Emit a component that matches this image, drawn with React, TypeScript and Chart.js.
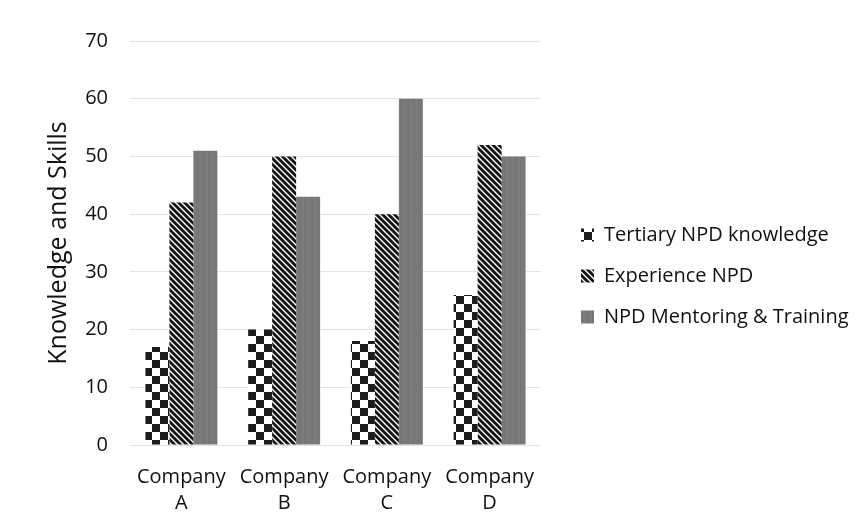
import React, { useEffect, useRef } from "react";
import { Chart, registerables } from "chart.js";

Chart.register(...registerables);

// Categories (two-line tick labels) and series values
const companies: string[][] = [
  ["Company", "A"],
  ["Company", "B"],
  ["Company", "C"],
  ["Company", "D"],
];
const tertiaryKnowledge = [17, 20, 18, 26];
const experienceNpd = [42, 50, 40, 52];
const mentoringTraining = [51, 43, 60, 50];
const seriesNames = [
  "Tertiary NPD knowledge",
  "Experience NPD",
  "NPD Mentoring & Training",
];
const yMin = 0;
const yMax = 70;
const yStep = 10;
const yTitle = "Knowledge and Skills";

const FONT = "'Open Sans', 'DejaVu Sans', sans-serif";
const TEXT = "#111111";

function makeTile(w: number, h: number, paint: (c: CanvasRenderingContext2D) => void) {
  const t = document.createElement("canvas");
  t.width = w;
  t.height = h;
  const c = t.getContext("2d")!;
  paint(c);
  return t;
}

function checkerPattern(ctx: CanvasRenderingContext2D) {
  const tile = makeTile(16, 16, (c) => {
    c.fillStyle = "#ffffff";
    c.fillRect(0, 0, 16, 16);
    c.fillStyle = "#1c1c1c";
    c.fillRect(0, 0, 8, 8);
    c.fillRect(8, 8, 8, 8);
  });
  return ctx.createPattern(tile, "repeat")!;
}

function diagonalPattern(ctx: CanvasRenderingContext2D) {
  const s = 6;
  const tile = makeTile(s, s, (c) => {
    c.fillStyle = "#ffffff";
    c.fillRect(0, 0, s, s);
    c.strokeStyle = "#141414";
    c.lineWidth = 2.8;
    for (const k of [-s, 0, s]) {
      c.beginPath();
      c.moveTo(k - 2, -2);
      c.lineTo(k + s + 2, s + 2);
      c.stroke();
    }
  });
  return ctx.createPattern(tile, "repeat")!;
}

function greyPattern(ctx: CanvasRenderingContext2D) {
  const cols = ["#747474", "#7c7c7c", "#787878", "#808080", "#737373", "#7a7a7a"];
  const tile = makeTile(cols.length, 1, (c) => {
    cols.forEach((col, i) => {
      c.fillStyle = col;
      c.fillRect(i, 0, 1, 1);
    });
  });
  return ctx.createPattern(tile, "repeat")!;
}

// Places the legend block to the right of the plot
const legendPlacer = {
  id: "legendPlacer",
  afterLayout(chart: any) {
    const lg = chart.legend;
    if (!lg) return;
    const w = lg.width;
    lg.left = 560;
    lg.right = 560 + w;
    lg.top = 25;
    lg.bottom = 527;
    lg.height = 502;
  },
};

export default function App() {
  const ref = useRef<HTMLCanvasElement | null>(null);

  useEffect(() => {
    const canvas = ref.current!;
    const ctx = canvas.getContext("2d")!;
    const chart = new Chart(canvas, {
      type: "bar",
      data: {
        labels: companies,
        datasets: [
          {
            label: seriesNames[0],
            data: tertiaryKnowledge,
            backgroundColor: checkerPattern(ctx),
            borderWidth: 0,
          },
          {
            label: seriesNames[1],
            data: experienceNpd,
            backgroundColor: diagonalPattern(ctx),
            borderWidth: 0,
          },
          {
            label: seriesNames[2],
            data: mentoringTraining,
            backgroundColor: greyPattern(ctx),
            borderWidth: 0,
          },
        ],
      },
      options: {
        responsive: false,
        animation: false,
        layout: { padding: { top: 41, right: 320, bottom: 0, left: 0 } },
        datasets: {
          bar: { categoryPercentage: 0.7, barPercentage: 1.0 },
        },
        plugins: {
          tooltip: { enabled: false },
          legend: {
            position: "chartArea",
            labels: {
              boxWidth: 13,
              boxHeight: 13,
              padding: 21,
              color: TEXT,
              font: { family: FONT, size: 20 },
            },
          },
        },
        scales: {
          x: {
            grid: { display: false, drawTicks: false },
            border: { display: false },
            ticks: {
              color: TEXT,
              padding: 19,
              font: { family: FONT, size: 20, lineHeight: 1.3 },
            },
            afterFit(scale: any) {
              scale.height = 82;
            },
          },
          y: {
            min: yMin,
            max: yMax,
            ticks: {
              stepSize: yStep,
              color: TEXT,
              padding: 22,
              font: { family: FONT, size: 20 },
            },
            grid: { color: "#e4e4e4", lineWidth: 1, drawTicks: false },
            border: { display: false },
            title: {
              display: true,
              text: yTitle,
              color: TEXT,
              font: { family: FONT, size: 25, lineHeight: 1.2 },
              padding: { top: 44, bottom: 0 },
            },
            afterFit(scale: any) {
              scale.width = 130;
            },
          },
        },
      },
      plugins: [legendPlacer],
    });
    return () => chart.destroy();
  }, []);

  return (
    <div style={{ position: "absolute", left: 0, top: 0, width: 861, height: 527, background: "#fff" }}>
      <canvas ref={ref} width={861} height={527} style={{ display: "block" }} />
    </div>
  );
}
